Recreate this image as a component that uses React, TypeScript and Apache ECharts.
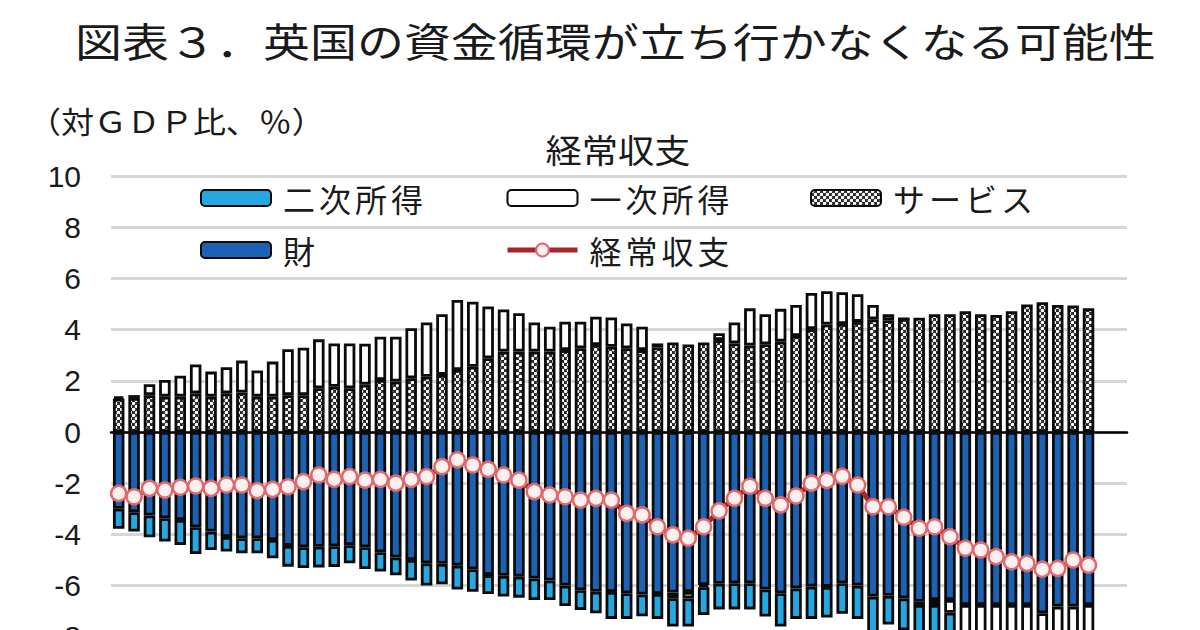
import React, { useEffect, useRef } from "react";
import * as echarts from "echarts";

const TITLE = "図表３．英国の資金循環が立ち行かなくなる可能性";
const UNIT_LABEL = "（対ＧＤＰ比、％）";
const SUBTITLE = "経常収支";

const YEARS = ["2001", "2002", "2003", "2004", "2005", "2006", "2007", "2008", "2009", "2010", "2011", "2012", "2013", "2014", "2015", "2016"];
const QUARTERS = ["Q1", "Q2", "Q3", "Q4"];
const CATEGORIES = YEARS.flatMap((y) => QUARTERS.map((q) => `${y}${q}`));

const LEGEND_COL1 = ["二次所得", "財"];
const LEGEND_COL2 = ["一次所得", "経常収支"];
const LEGEND_COL3 = ["サービス"];

// 財 (goods balance)
const GOODS = [
  -3.0, -3.13, -3.26, -3.37, -3.44, -3.72, -3.89, -4.1, -4.15, -4.15,
  -4.22, -4.45, -4.5, -4.48, -4.46, -4.42, -4.5, -4.7, -4.9, -5.0,
  -5.13, -5.15, -5.22, -5.36, -5.59, -5.62, -5.65, -5.72, -5.8, -6.0,
  -6.18, -6.24, -6.25, -6.3, -6.35, -6.33, -6.27, -6.25, -5.98, -5.93,
  -5.91, -5.91, -6.15, -6.3, -6.11, -6.04, -6.05, -5.91, -6.0, -6.43,
  -6.4, -6.5, -6.63, -6.56, -6.56, -6.76, -6.76, -6.76, -6.76, -6.76,
  -7.08, -6.82, -6.82, -6.76,
];

// サービス (services balance)
const SERVICES = [
  1.3, 1.33, 1.44, 1.38, 1.38, 1.51, 1.38, 1.51, 1.54, 1.38,
  1.38, 1.44, 1.44, 1.71, 1.77, 1.71, 1.85, 2.03, 1.97, 2.1,
  2.16, 2.23, 2.42, 2.55, 2.88, 3.14, 3.14, 3.14, 3.14, 3.2,
  3.27, 3.4, 3.33, 3.27, 3.2, 3.3, 3.5, 3.42, 3.5, 3.59,
  3.46, 3.38, 3.43, 3.53, 3.75, 4.02, 4.2, 4.22, 4.3, 4.4,
  4.37, 4.42, 4.46, 4.6, 4.6, 4.72, 4.6, 4.57, 4.72, 4.98,
  5.07, 4.96, 4.94, 4.83,
];

// 一次所得 (primary income)
const PRIMARY = [
  0.08, 0.11, 0.43, 0.65, 0.82, 1.13, 0.98, 1.02, 1.25, 1.02,
  1.37, 1.79, 1.85, 1.91, 1.69, 1.75, 1.6, 1.69, 1.75, 1.95,
  2.12, 2.37, 2.74, 2.54, 2.02, 1.65, 1.5, 1.14, 0.97, 1.11,
  1.04, 1.1, 1.14, 0.97, 0.91, 0.16, -0.22, -0.25, -0.08, 0.27,
  0.82, 1.45, 1.17, 1.28, 1.21, 1.41, 1.3, 1.24, 1.08, 0.56,
  0.23, 0.0, -0.13, -0.2, -0.5, -1.3, -1.25, -1.5, -1.8, -2.1,
  -2.1, -2.2, -1.9, -2.0,
];

// 二次所得 (secondary income)
const SECONDARY = [
  -0.78, -0.76, -0.85, -0.91, -0.97, -1.05, -0.72, -0.57, -0.59, -0.59,
  -0.71, -0.81, -0.81, -0.81, -0.81, -0.71, -0.85, -0.75, -0.7, -0.8,
  -0.87, -0.8, -0.93, -0.88, -0.74, -0.81, -0.82, -0.84, -0.76, -0.8,
  -0.77, -0.84, -1.05, -1.0, -0.85, -0.97, -1.11, -1.1, -1.09, -1.0,
  -1.02, -1.02, -1.06, -1.3, -1.19, -1.26, -1.2, -1.19, -1.3, -1.45,
  -1.12, -1.25, -1.46, -1.54, -1.63, -1.2, -1.2, -1.18, -1.23, -1.25,
  -1.25, -1.27, -1.22, -1.27,
];

// 経常収支 (current account)
const CURRENT = [
  -2.4, -2.53, -2.2, -2.27, -2.16, -2.11, -2.2, -2.07, -2.07, -2.29,
  -2.24, -2.14, -1.94, -1.68, -1.85, -1.74, -1.88, -1.85, -2.0, -1.85,
  -1.74, -1.35, -1.09, -1.29, -1.46, -1.68, -1.88, -2.33, -2.46, -2.53,
  -2.66, -2.59, -2.66, -3.18, -3.24, -3.7, -4.02, -4.15, -3.7, -3.08,
  -2.59, -2.12, -2.59, -2.85, -2.5, -2.0, -1.89, -1.73, -2.07, -2.92,
  -2.92, -3.33, -3.76, -3.7, -4.09, -4.54, -4.61, -4.87, -5.07, -5.13,
  -5.36, -5.33, -5.0, -5.2,
];

const CJK = '"Noto Sans CJK JP", "Noto Sans", sans-serif';
const NUM_FONT = '"Liberation Sans", Arial, sans-serif';
const TEXT_COLOR = "#1a1a1a";
const BORDER = "#0a0a0a";
const BORDER_W = 2.8;
const BAR_W = 11.5;

const hatchSvg =
  '<svg xmlns="http://www.w3.org/2000/svg" width="6" height="6">' +
  '<rect width="6" height="6" fill="#262626"/>' +
  '<circle cx="1.5" cy="1.5" r="1.75" fill="#ffffff"/>' +
  '<circle cx="4.5" cy="4.5" r="1.75" fill="#ffffff"/>' +
  "</svg>";
const HATCH = {
  image: "data:image/svg+xml;charset=utf-8," + encodeURIComponent(hatchSvg),
  repeat: "repeat",
  imageWidth: 6,
  imageHeight: 6,
};

export default function App() {
  const ref = useRef<HTMLDivElement>(null);

  useEffect(() => {
    if (!ref.current) return;
    const chart = echarts.init(ref.current, null, { renderer: "svg" });

    const legendText = {
      fontSize: 32,
      color: TEXT_COLOR,
      fontFamily: CJK,
      lineHeight: 34,
      padding: [0, 0, 0, 7],
    };
    const legendBase = {
      orient: "vertical",
      top: 181,
      padding: 0,
      itemWidth: 70,
      itemHeight: 16,
      itemGap: 18,
      selectedMode: false,
      textStyle: legendText,
    };

    const option: any = {
      animation: false,
      backgroundColor: "#ffffff",
      textStyle: { fontFamily: CJK },
      grid: { left: 111, top: 176, width: 1016, height: 512 },
      xAxis: {
        type: "category",
        data: CATEGORIES,
        max: 65,
        axisLine: { onZero: true, lineStyle: { color: "#000", width: 2.5 } },
        axisTick: { show: false },
        axisLabel: { show: false },
        splitLine: { show: false },
      },
      yAxis: {
        type: "value",
        min: -10,
        max: 10,
        interval: 2,
        axisLine: { show: false },
        axisTick: { show: false },
        axisLabel: { margin: 30, fontSize: 30, color: TEXT_COLOR, fontFamily: NUM_FONT },
        splitLine: { lineStyle: { color: "#d6d6d6", width: 3 } },
      },
      legend: [
        { ...legendBase, left: 200, data: LEGEND_COL1 },
        { ...legendBase, left: 505, data: LEGEND_COL2, lineStyle: { width: 5 } },
        { ...legendBase, left: 810, data: LEGEND_COL3 },
      ],
      graphic: [
        {
          type: "text",
          x: 75,
          y: 40,
          scaleX: 1.175,
          style: {
            text: TITLE,
            fontSize: 40,
            fontFamily: CJK,
            fill: TEXT_COLOR,
            textAlign: "left",
            align: "left",
            textVerticalAlign: "middle",
            verticalAlign: "middle",
          },
        },
        {
          type: "text",
          x: 28,
          y: 120,
          scaleX: 1.1,
          style: {
            text: UNIT_LABEL,
            fontSize: 30,
            fontFamily: CJK,
            fill: TEXT_COLOR,
            textAlign: "left",
            align: "left",
            textVerticalAlign: "middle",
            verticalAlign: "middle",
          },
        },
        {
          type: "text",
          x: 618,
          y: 149,
          scaleX: 1.1,
          style: {
            text: SUBTITLE,
            fontSize: 33,
            fontFamily: CJK,
            fill: TEXT_COLOR,
            textAlign: "center",
            align: "center",
            textVerticalAlign: "middle",
            verticalAlign: "middle",
          },
        },
      ],
      series: [
        {
          name: "財",
          type: "bar",
          stack: "ca",
          barWidth: BAR_W,
          data: GOODS,
          itemStyle: { color: "#1c62b4", borderColor: BORDER, borderWidth: BORDER_W },
        },
        {
          name: "サービス",
          type: "bar",
          stack: "ca",
          barWidth: BAR_W,
          data: SERVICES,
          itemStyle: { color: HATCH, borderColor: BORDER, borderWidth: BORDER_W },
        },
        {
          name: "一次所得",
          type: "bar",
          stack: "ca",
          barWidth: BAR_W,
          data: PRIMARY,
          itemStyle: { color: "#ffffff", borderColor: BORDER, borderWidth: BORDER_W },
        },
        {
          name: "二次所得",
          type: "bar",
          stack: "ca",
          barWidth: BAR_W,
          data: SECONDARY,
          itemStyle: { color: "#25a8e2", borderColor: BORDER, borderWidth: BORDER_W },
        },
        {
          name: "経常収支",
          type: "line",
          data: CURRENT,
          z: 5,
          symbol: "circle",
          symbolSize: 15,
          showSymbol: true,
          showAllSymbol: true,
          lineStyle: { color: "#a8262b", width: 5 },
          itemStyle: { color: "#fff0f0", borderColor: "#e0686c", borderWidth: 2.5 },
        },
      ],
    };

    chart.setOption(option);

    const legendNames = [...LEGEND_COL1, ...LEGEND_COL2, ...LEGEND_COL3];
    const applySpacing = () => {
      if (!ref.current) return;
      ref.current.querySelectorAll("text").forEach((t) => {
        const s = t.textContent || "";
        if (legendNames.includes(s) && t.getAttribute("text-anchor") !== "middle") {
          t.setAttribute("letter-spacing", "4");
        }
      });
    };
    applySpacing();
    const timer = setTimeout(applySpacing, 60);

    return () => {
      clearTimeout(timer);
      chart.dispose();
    };
  }, []);

  return (
    <div
      style={{
        position: "fixed",
        left: 0,
        top: 0,
        width: 1200,
        height: 630,
        overflow: "hidden",
        background: "#ffffff",
      }}
    >
      <div ref={ref} style={{ width: 1200, height: 720 }} />
    </div>
  );
}
